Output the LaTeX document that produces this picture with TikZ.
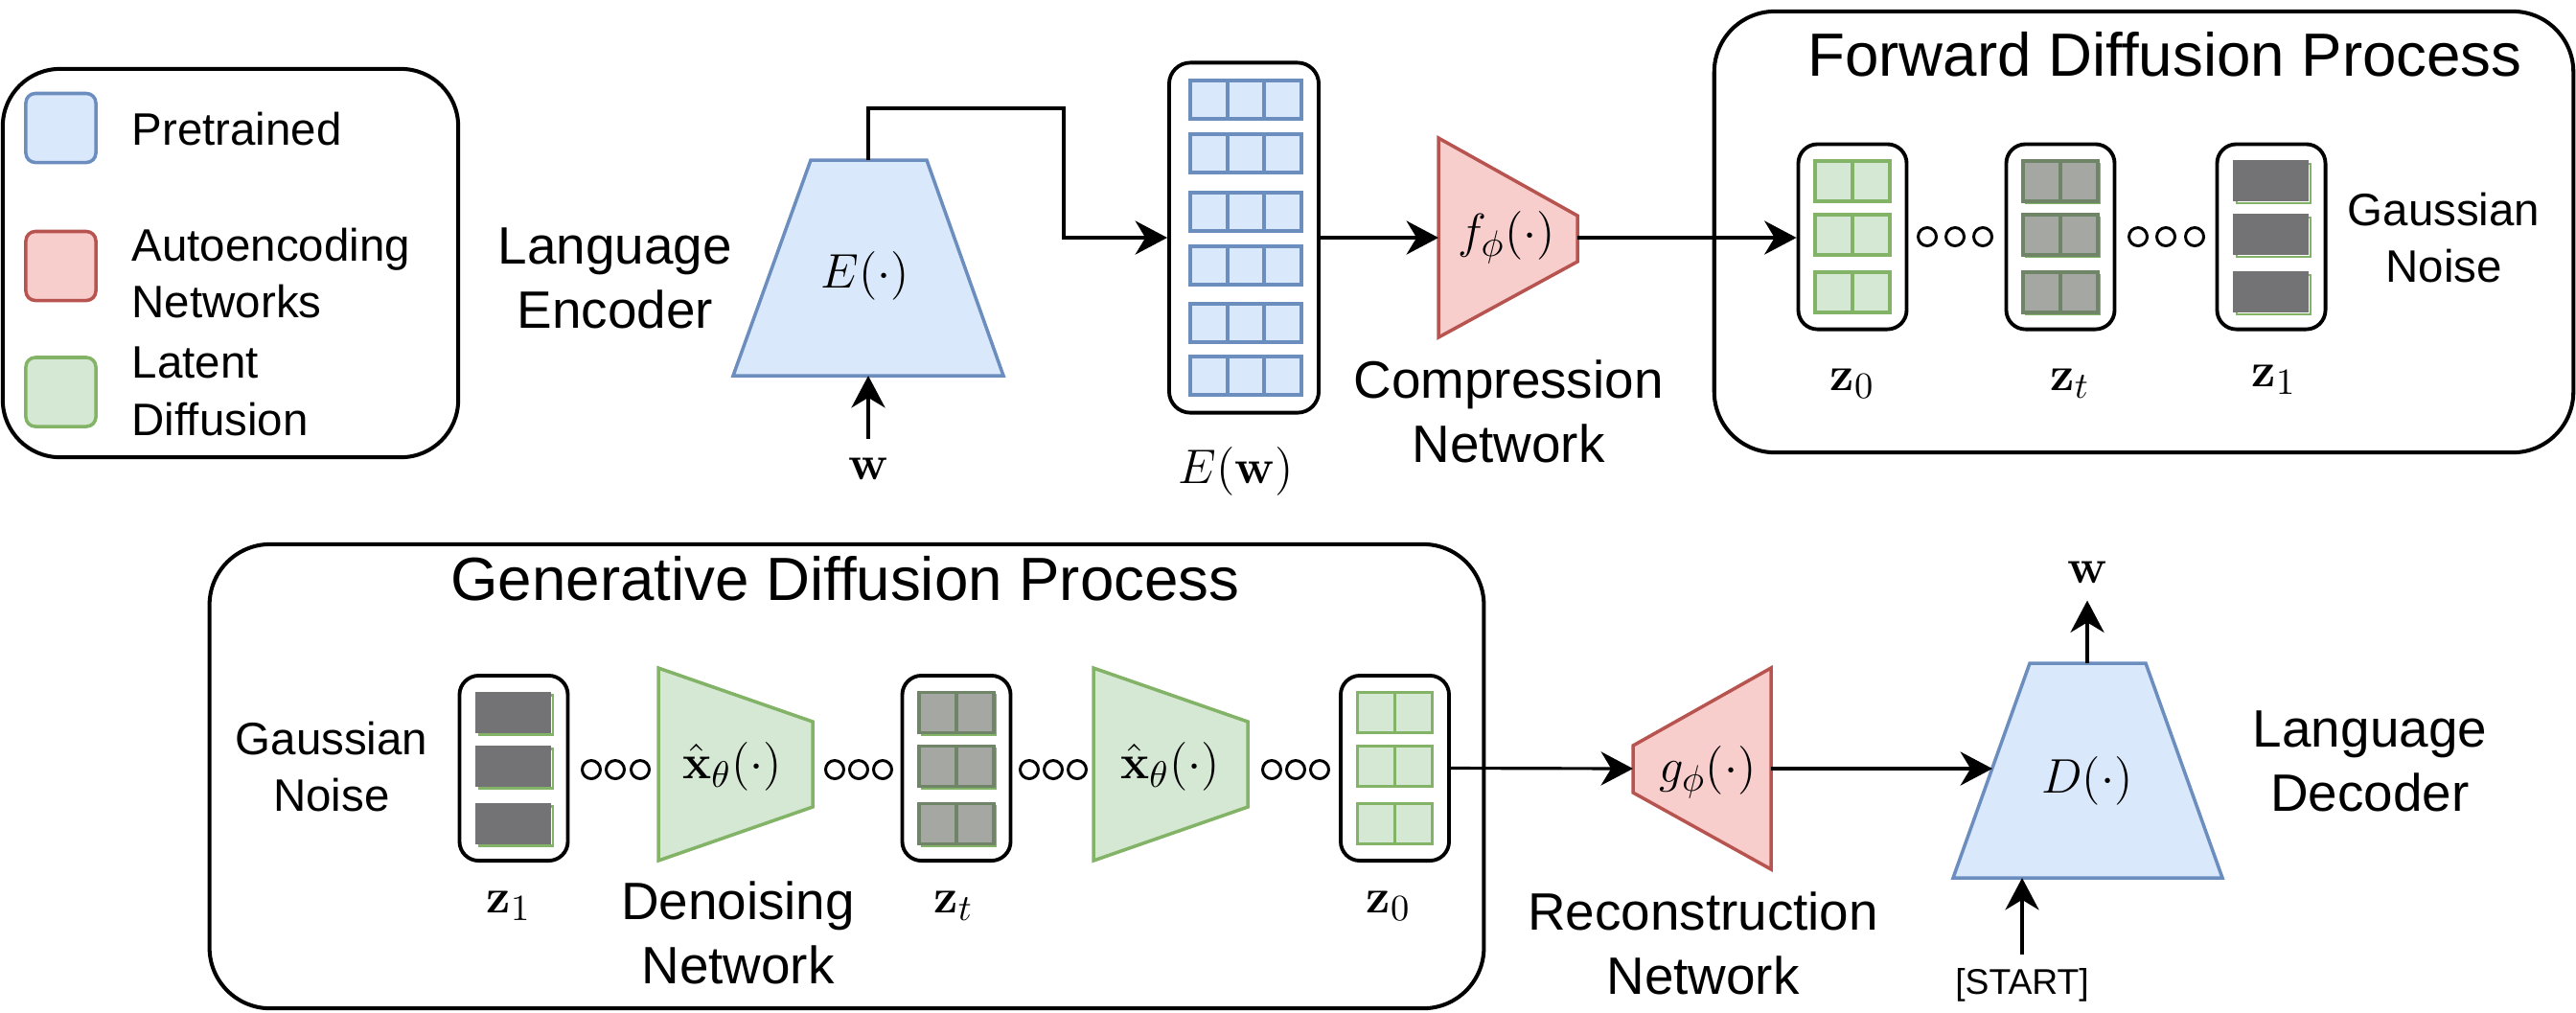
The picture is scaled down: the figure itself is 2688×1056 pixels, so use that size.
\documentclass[tikz,border=0pt]{standalone}
\usepackage[no-math]{fontspec}
\setmainfont{Liberation Sans}
\usetikzlibrary{arrows.meta}
\definecolor{bfill}{HTML}{DAE8FC}\definecolor{bdraw}{HTML}{6C8EBF}
\definecolor{rfill}{HTML}{F8CECC}\definecolor{rdraw}{HTML}{B85450}
\definecolor{gfill}{HTML}{D5E8D4}\definecolor{gdraw}{HTML}{82B366}
\definecolor{nzt}{RGB}{165,168,162}\definecolor{nztb}{RGB}{112,132,104}
\definecolor{nzo}{RGB}{115,114,116}
\tikzset{
  bigbox/.style={draw, line width=1.15pt, rounded corners=18pt, inner sep=0pt},
  zbox/.style={draw, line width=1.1pt, rounded corners=5.7pt, minimum width=1.13cm, minimum height=1.93cm, inner sep=0pt},
  legsq/.style={line width=1pt, rounded corners=2.8pt, minimum width=0.73cm, minimum height=0.72cm, inner sep=0pt},
  conn/.style={line width=0.9pt, -{Stealth[length=9.5pt,width=10pt,inset=3pt]}},
  trap/.style={line width=1pt},
  lbl/.style={font=\fontsize{15.6}{19}\selectfont, align=center, inner sep=0pt},
  smalltxt/.style={font=\fontsize{13.5}{17}\selectfont, align=center, inner sep=0pt},
  legtxt/.style={font=\fontsize{13.5}{17}\selectfont, align=left, inner sep=0pt},
  ttl/.style={font=\fontsize{18.1}{22}\selectfont, inner sep=0pt},
  mth/.style={font=\fontsize{15}{18}\selectfont, inner sep=0pt},
  starttxt/.style={font=\fontsize{10.6}{13}\selectfont},
  ring/.style={draw, line width=0.85pt},
  brow/.pic={\draw[line width=1.1pt, draw=bdraw, fill=bfill] (-58,-20) rectangle (58,20);
             \draw[line width=1.1pt, bdraw] (-19,-20) -- (-19,20) (19,-20) -- (19,20);},
  gpair/.pic={\draw[line width=1.1pt, draw=gdraw, fill=gfill] (-39,-21) rectangle (39,21);
              \draw[line width=1.1pt, gdraw] (0,-21) -- (0,21);},
  tpair/.pic={\draw[line width=0.8pt, gdraw] (-36,-18) rectangle (41,23);
              \draw[line width=1.1pt, draw=nztb, fill=nzt] (-39,-21) rectangle (39,21);
              \draw[line width=1.1pt, nztb] (0,-21) -- (0,21);},
  npair/.pic={\draw[line width=0.8pt, gdraw] (-36,-18) rectangle (41,23);
              \fill[nzo] (-40,-22) rectangle (39,21);},
}
\begin{document}
\begin{tikzpicture}[x=0.01cm,y=-0.01cm]
\useasboundingbox (0,0) rectangle (2688,1056);

% ---------- legend
\node[bigbox, rounded corners=17pt, minimum width=4.75cm, minimum height=4.05cm] (legend) at (240.5,274.5) {};
\node[legsq, fill=bfill, draw=bdraw] (lgb) at (63.5,133.5) {};
\node[legsq, fill=rfill, draw=rdraw] (lgr) at (63.5,277.5) {};
\node[legsq, fill=gfill, draw=gdraw] (lgg) at (63.5,409) {};
\node[legtxt, anchor=west] (ltb) at (137,135) {Pretrained};
\node[legtxt, anchor=west] (ltr) at (137,285) {Autoencoding\\Networks};
\node[legtxt, anchor=west] (ltg) at (137,408) {Latent\\Diffusion};

% ---------- encoder
\draw[trap, draw=bdraw, fill=bfill] (765,392) -- (846,167) -- (967,167) -- (1047,392) -- cycle;
\coordinate (encT) at (906,167);
\coordinate (encB) at (906,392);
\node[mth] (encL) at (903,288) {$E(\cdot)$};
\node[lbl] (encN) at (642,290.5) {Language\\Encoder};
\node[mth, inner sep=5.5pt] (win) at (906,489) {$\mathbf{w}$};
\draw[conn] (win) -- (encB);

% ---------- embeddings
\node[zbox, rounded corners=6.3pt, minimum width=1.56cm, minimum height=3.65cm] (emb) at (1298,248) {};
\foreach \cy in {104,160,221,277,337,392} \pic at (1300,\cy) {brow};
\node[mth] (embL) at (1290,492) {$E(\mathbf{w})$};
\draw[conn] (encT) |- (1110,113) |- (emb.west);

% ---------- compression network
\draw[trap, draw=rdraw, fill=rfill] (1501,144) -- (1646,225) -- (1646,273) -- (1501,352) -- cycle;
\coordinate (fin) at (1501,248);
\coordinate (fout) at (1646,248);
\node[mth] (fL) at (1572,248) {$f_\phi(\cdot)$};
\node[lbl] (fN) at (1574,429) {Compression\\Network};
\draw[conn] (emb.east) -- (fin);

% ---------- forward diffusion
\node[bigbox, minimum width=8.96cm, minimum height=4.6cm] (fwd) at (2237,242) {};
\node[ttl] (fwdT) at (2259,57) {Forward Diffusion Process};
\node[zbox] (z0f) at (1933,247) {};
\node[zbox] (ztf) at (2150,247) {};
\node[zbox] (z1f) at (2370,247) {};
\foreach \dy in {-58,-2,58} {
  \path (z0f) ++(0,\dy) pic {gpair};
  \path (ztf) ++(0,\dy) pic {tpair};
  \path (z1f) ++(0,\dy) pic {npair};
}
\foreach \x in {2011,2040,2069,2231,2260,2290} \draw[ring] (\x,247) circle[radius=9.5];
\node[mth] (z0fL) at (1933,400) {$\mathbf{z}_0$};
\node[mth] (ztfL) at (2160,400) {$\mathbf{z}_t$};
\node[mth] (z1fL) at (2373,396) {$\mathbf{z}_1$};
\node[smalltxt] (gnf) at (2550,248) {Gaussian\\Noise};
\draw[conn] (fout) -- (fout -| z0f.west);

% ---------- generative diffusion
\node[bigbox, minimum width=13.29cm, minimum height=4.84cm] (gen) at (883.5,810) {};
\node[ttl] (genT) at (882,604) {Generative Diffusion Process};
\node[zbox] (z1g) at (536,801.5) {};
\node[zbox] (ztg) at (998,801.5) {};
\node[zbox] (z0g) at (1455.5,801.5) {};
\foreach \dy in {-58,-2,58} {
  \path (z1g) ++(0,\dy) pic {npair};
  \path (ztg) ++(0,\dy) pic {tpair};
  \path (z0g) ++(0,\dy) pic {gpair};
}
\draw[trap, draw=gdraw, fill=gfill] (687,697) -- (848,753) -- (848,842) -- (687,898) -- cycle;
\draw[trap, draw=gdraw, fill=gfill] (1141,697) -- (1302,753) -- (1302,842) -- (1141,898) -- cycle;
\node[mth] (den1L) at (764,800) {$\hat{\mathbf{x}}_\theta(\cdot)$};
\node[mth] (den2L) at (1221,800) {$\hat{\mathbf{x}}_\theta(\cdot)$};
\node[lbl] (denN) at (770,973) {Denoising\\Network};
\foreach \x in {617,642,668,871,896,921,1074,1099,1124,1327,1352,1377} \draw[ring] (\x,803) circle[radius=9.5];
\node[smalltxt] (gng) at (346,800) {Gaussian\\Noise};
\node[mth] (z1gL) at (531,945) {$\mathbf{z}_1$};
\node[mth] (ztgL) at (995,945) {$\mathbf{z}_t$};
\node[mth] (z0gL) at (1449,945) {$\mathbf{z}_0$};

% ---------- reconstruction network
\draw[trap, draw=rdraw, fill=rfill] (1704,778) -- (1848,697) -- (1848,907) -- (1704,827) -- cycle;
\coordinate (gin) at (1704,802);
\coordinate (gout) at (1848,802);
\node[mth] (gL) at (1782,806) {$g_\phi(\cdot)$};
\node[lbl] (gN) at (1777,984.5) {Reconstruction\\Network};
\draw[conn] (z0g.east) -- (gin);

% ---------- decoder
\draw[trap, draw=bdraw, fill=bfill] (2038,916) -- (2118,692) -- (2239,692) -- (2319,916) -- cycle;
\coordinate (DT) at (2178,692);
\coordinate (Din) at (2079,802);
\coordinate (Dstart) at (2110,916);
\node[mth] (DL) at (2178,815) {$D(\cdot)$};
\node[lbl] (DN) at (2473,794) {Language\\Decoder};
\draw[conn] (gout) -- (Din);
\node[mth, inner sep=5pt] (wout) at (2178,597) {$\mathbf{w}$};
\draw[conn] (DT) -- (wout);
\node[starttxt, inner sep=4pt] (start) at (2110,1028) {[START]};
\draw[conn] (start) -- (Dstart);
\end{tikzpicture}
\end{document}
